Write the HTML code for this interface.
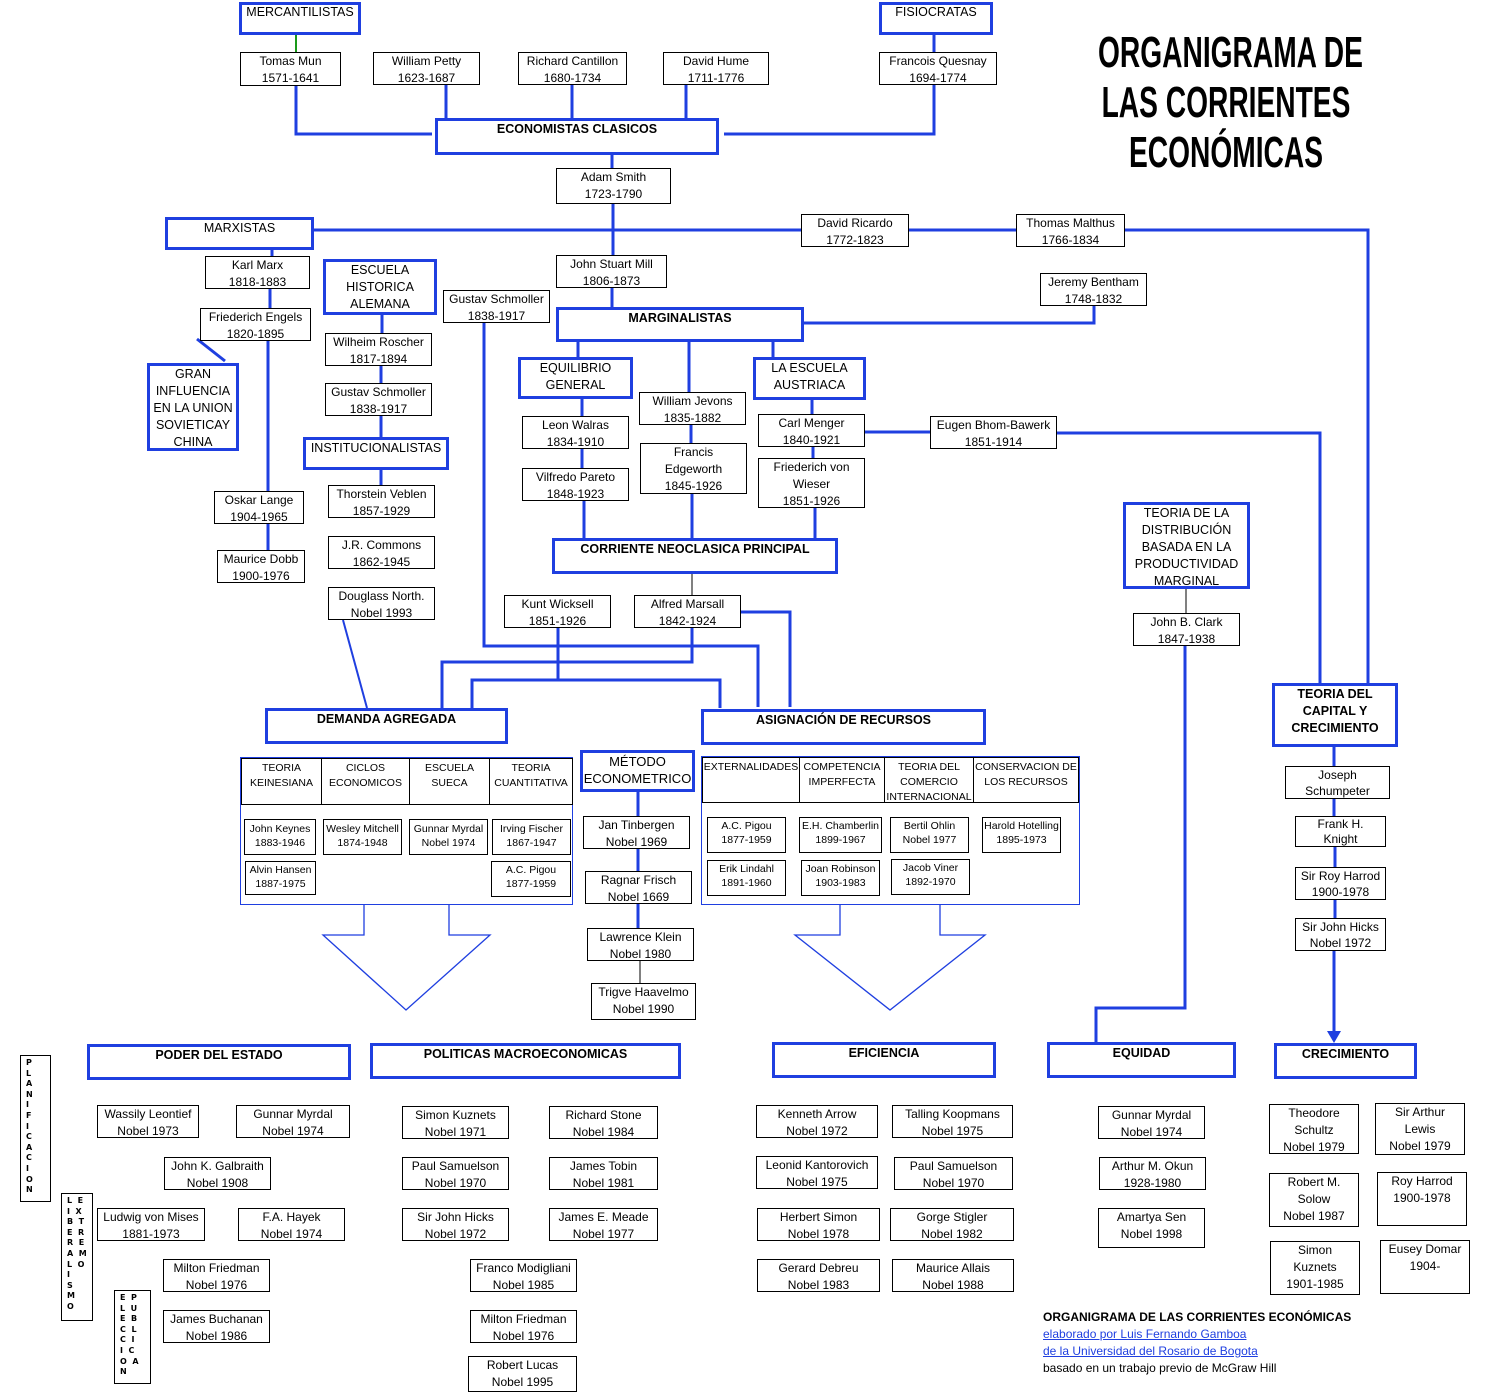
<!DOCTYPE html>
<html><head><meta charset="utf-8">
<style>
body{margin:0;background:#fff;}
#c{position:relative;width:1495px;height:1395px;overflow:hidden;font-family:"Liberation Sans",sans-serif;color:#000;}
.b,.h{position:absolute;box-sizing:border-box;background:#fff;text-align:center;font-size:12px;line-height:17px;z-index:2;}
.b{border:1px solid #000;}
.h{border:3px solid #1f3fe0;font-size:12.5px;line-height:17px;}
.hb{font-weight:bold;}
.s{font-size:10.5px;line-height:14px;}
.cell{position:absolute;box-sizing:border-box;border-right:1px solid #000;top:0;height:100%;text-align:center;font-size:10.5px;line-height:15px;padding-top:2px;}
.v{position:absolute;box-sizing:border-box;border:1px solid #000;background:#fff;font-weight:bold;font-size:8px;line-height:10.6px;font-family:"DejaVu Sans",sans-serif;padding:2px 0 0 5px;white-space:pre;z-index:2;}
svg{position:absolute;left:0;top:0;z-index:1;}
.t{position:absolute;left:1026px;width:400px;text-align:center;white-space:nowrap;font-family:"Liberation Sans",sans-serif;font-weight:bold;font-size:44px;line-height:50px;transform:scaleX(0.64);transform-origin:center;z-index:2;}
.f{position:absolute;left:1043px;font-size:12px;line-height:17px;z-index:2;}
.f a{color:#1f3fe0;text-decoration:underline;}
</style></head><body><div id="c">
<svg width="1495" height="1395" viewBox="0 0 1495 1395">
<g fill="none" stroke="#1f3fe0" stroke-width="3">
<polyline points="296,86 296,134 432,134"/>
<line x1="446" y1="85" x2="446" y2="118"/>
<line x1="572" y1="85" x2="572" y2="118"/>
<line x1="686" y1="85" x2="686" y2="118"/>
<polyline points="934,35 934,52"/>
<polyline points="934,85 934,134 724,134"/>
<line x1="612" y1="155" x2="612" y2="168"/>
<line x1="613" y1="204" x2="613" y2="255"/>
<polyline points="314,230 1368,230 1368,683"/>
<line x1="612" y1="288" x2="612" y2="307"/>
<polyline points="804,323 1094,323 1094,306"/>
<line x1="272" y1="250" x2="272" y2="256"/>
<line x1="270" y1="289" x2="270" y2="308"/>
<polyline points="197,339 225,361"/>
<line x1="268" y1="341" x2="268" y2="491"/>
<line x1="268" y1="524" x2="268" y2="550"/>
<line x1="382" y1="315" x2="382" y2="333"/>
<line x1="381" y1="366" x2="381" y2="383"/>
<line x1="381" y1="416" x2="381" y2="437"/>
<line x1="381" y1="470" x2="381" y2="485"/>
<polyline points="484,323 484,646 758,646 758,707"/>
<line x1="578" y1="341" x2="578" y2="357"/>
<line x1="689" y1="341" x2="689" y2="392"/>
<line x1="773" y1="341" x2="773" y2="358"/>
<line x1="582" y1="399" x2="582" y2="416"/>
<line x1="582" y1="449" x2="582" y2="468"/>
<line x1="584" y1="501" x2="584" y2="538"/>
<line x1="691" y1="425" x2="691" y2="443"/>
<line x1="692" y1="494" x2="692" y2="538"/>
<line x1="812" y1="400" x2="812" y2="414"/>
<line x1="813" y1="447" x2="813" y2="458"/>
<line x1="815" y1="508" x2="815" y2="538"/>
<line x1="865" y1="432" x2="930" y2="432"/>
<polyline points="1057,433 1320,433 1320,683"/>
<polyline points="558,627 558,680"/>
<polyline points="472,708 472,680 720,680 720,708"/>
<polyline points="692,628 692,662 442,662 442,708"/>
<polyline points="741,612 790,612 790,707"/>
<line x1="638" y1="792" x2="638" y2="816"/>
<line x1="638" y1="849" x2="638" y2="871"/>
<line x1="638" y1="904" x2="638" y2="928"/>
<polyline points="1185,646 1185,1008 1096,1008 1096,1042"/>
<line x1="1334" y1="747" x2="1334" y2="766"/>
<line x1="1334" y1="799" x2="1334" y2="816"/>
<line x1="1335" y1="847" x2="1335" y2="867"/>
<line x1="1335" y1="900" x2="1335" y2="918"/>
<line x1="1334" y1="951" x2="1334" y2="1032"/>
</g>
<line x1="343" y1="620" x2="367" y2="708" stroke="#1f3fe0" stroke-width="2"/>
<line x1="296" y1="35" x2="296" y2="52" stroke="#1a9a1a" stroke-width="2"/>
<line x1="692" y1="574" x2="692" y2="595" stroke="#000" stroke-width="1"/>
<line x1="640" y1="961" x2="640" y2="983" stroke="#000" stroke-width="1"/>
<line x1="1186" y1="589" x2="1186" y2="613" stroke="#000" stroke-width="1"/>
<polygon points="1327,1031 1341,1031 1334,1043" fill="#1f3fe0"/>
<g fill="none" stroke="#1f3fe0" stroke-width="1.3">
<polyline points="364,905 364,935 323,935 406,1010 490,935 449,935 449,905"/>
<polyline points="840,905 840,935 795,935 890,1010 985,935 940,935 940,905"/>
</g>
<rect x="240.5" y="757.5" width="332" height="147" fill="none" stroke="#1f3fe0" stroke-width="1"/>
<rect x="701.5" y="756.5" width="378" height="148" fill="none" stroke="#1f3fe0" stroke-width="1"/>
</svg>

<div class="t" style="top:28px">ORGANIGRAMA DE</div>
<div class="t" style="top:78px">LAS CORRIENTES</div>
<div class="t" style="top:128px">ECONÓMICAS</div>

<div class="h" style="left:239px;top:2px;width:122px;height:33px;line-height:14px;">MERCANTILISTAS</div>
<div class="h" style="left:879px;top:2px;width:114px;height:33px;line-height:14px;">FISIOCRATAS</div>
<div class="b" style="left:240px;top:52px;width:101px;height:34px;">Tomas Mun<br>1571-1641</div>
<div class="b" style="left:373px;top:52px;width:107px;height:33px;">William Petty<br>1623-1687</div>
<div class="b" style="left:518px;top:52px;width:109px;height:33px;">Richard Cantillon<br>1680-1734</div>
<div class="b" style="left:663px;top:52px;width:106px;height:33px;">David Hume<br>1711-1776</div>
<div class="b" style="left:879px;top:52px;width:118px;height:33px;">Francois Quesnay<br>1694-1774</div>
<div class="h hb" style="left:435px;top:118px;width:284px;height:37px;line-height:17px;">ECONOMISTAS CLASICOS</div>
<div class="b" style="left:556px;top:168px;width:115px;height:36px;">Adam Smith<br>1723-1790</div>
<div class="h" style="left:165px;top:217px;width:149px;height:33px;line-height:17px;">MARXISTAS</div>
<div class="b" style="left:801px;top:214px;width:108px;height:33px;">David Ricardo<br>1772-1823</div>
<div class="b" style="left:1016px;top:214px;width:109px;height:33px;">Thomas Malthus<br>1766-1834</div>
<div class="b" style="left:205px;top:256px;width:105px;height:33px;">Karl Marx<br>1818-1883</div>
<div class="b" style="left:200px;top:308px;width:111px;height:33px;">Friederich Engels<br>1820-1895</div>
<div class="h" style="left:147px;top:363px;width:92px;height:88px;">GRAN<br>INFLUENCIA<br>EN LA UNION<br>SOVIETICAY<br>CHINA</div>
<div class="b" style="left:214px;top:491px;width:90px;height:33px;">Oskar Lange<br>1904-1965</div>
<div class="b" style="left:217px;top:550px;width:88px;height:33px;">Maurice Dobb<br>1900-1976</div>
<div class="h" style="left:323px;top:259px;width:114px;height:56px;">ESCUELA<br>HISTORICA<br>ALEMANA</div>
<div class="b" style="left:325px;top:333px;width:107px;height:33px;">Wilheim Roscher<br>1817-1894</div>
<div class="b" style="left:325px;top:383px;width:107px;height:33px;">Gustav Schmoller<br>1838-1917</div>
<div class="h" style="left:303px;top:437px;width:146px;height:33px;">INSTITUCIONALISTAS</div>
<div class="b" style="left:328px;top:485px;width:107px;height:33px;">Thorstein Veblen<br>1857-1929</div>
<div class="b" style="left:328px;top:536px;width:107px;height:33px;">J.R. Commons<br>1862-1945</div>
<div class="b" style="left:328px;top:587px;width:107px;height:33px;">Douglass North.<br>Nobel 1993</div>
<div class="b" style="left:443px;top:290px;width:107px;height:33px;">Gustav Schmoller<br>1838-1917</div>
<div class="b" style="left:556px;top:255px;width:111px;height:33px;">John Stuart Mill<br>1806-1873</div>
<div class="b" style="left:1040px;top:273px;width:107px;height:33px;">Jeremy Bentham<br>1748-1832</div>
<div class="h hb" style="left:556px;top:307px;width:248px;height:35px;">MARGINALISTAS</div>
<div class="h" style="left:518px;top:357px;width:115px;height:42px;">EQUILIBRIO<br>GENERAL</div>
<div class="h" style="left:753px;top:357px;width:113px;height:43px;">LA ESCUELA<br>AUSTRIACA</div>
<div class="b" style="left:522px;top:416px;width:107px;height:33px;">Leon Walras<br>1834-1910</div>
<div class="b" style="left:522px;top:468px;width:107px;height:33px;">Vilfredo Pareto<br>1848-1923</div>
<div class="b" style="left:639px;top:392px;width:107px;height:33px;">William Jevons<br>1835-1882</div>
<div class="b" style="left:640px;top:443px;width:107px;height:51px;">Francis<br>Edgeworth<br>1845-1926</div>
<div class="b" style="left:758px;top:414px;width:107px;height:33px;">Carl Menger<br>1840-1921</div>
<div class="b" style="left:758px;top:458px;width:107px;height:50px;">Friederich von<br>Wieser<br>1851-1926</div>
<div class="b" style="left:930px;top:416px;width:127px;height:33px;">Eugen Bhom-Bawerk<br>1851-1914</div>
<div class="h hb" style="left:552px;top:538px;width:286px;height:36px;">CORRIENTE NEOCLASICA PRINCIPAL</div>
<div class="b" style="left:504px;top:595px;width:107px;height:33px;">Kunt Wicksell<br>1851-1926</div>
<div class="b" style="left:634px;top:595px;width:107px;height:33px;">Alfred Marsall<br>1842-1924</div>
<div class="h hb" style="left:265px;top:708px;width:243px;height:36px;">DEMANDA AGREGADA</div>
<div class="h hb" style="left:701px;top:709px;width:285px;height:36px;">ASIGNACIÓN DE RECURSOS</div>

<div class="b" style="left:241px;top:758px;width:332px;height:47px;border-width:1px;">
<div class="cell" style="left:0;width:80px;">TEORIA<br>KEINESIANA</div>
<div class="cell" style="left:80px;width:88px;">CICLOS<br>ECONOMICOS</div>
<div class="cell" style="left:168px;width:80px;">ESCUELA<br>SUECA</div>
<div class="cell" style="left:248px;width:82px;border-right:none;">TEORIA<br>CUANTITATIVA</div>
</div>
<div class="b s" style="left:244px;top:819px;width:72px;height:36px;padding-top:2px;">John Keynes<br>1883-1946</div>
<div class="b s" style="left:323px;top:819px;width:79px;height:36px;padding-top:2px;">Wesley Mitchell<br>1874-1948</div>
<div class="b s" style="left:409px;top:819px;width:79px;height:36px;padding-top:2px;">Gunnar Myrdal<br>Nobel 1974</div>
<div class="b s" style="left:492px;top:819px;width:79px;height:36px;padding-top:2px;">Irving Fischer<br>1867-1947</div>
<div class="b s" style="left:245px;top:861px;width:71px;height:34px;padding-top:1px;">Alvin Hansen<br>1887-1975</div>
<div class="b s" style="left:491px;top:861px;width:80px;height:36px;padding-top:1px;">A.C. Pigou<br>1877-1959</div>

<div class="h" style="left:580px;top:750px;width:115px;height:42px;font-size:13px;">MÉTODO<br>ECONOMETRICO</div>
<div class="b" style="left:583px;top:816px;width:107px;height:33px;">Jan Tinbergen<br>Nobel 1969</div>
<div class="b" style="left:585px;top:871px;width:107px;height:33px;">Ragnar Frisch<br>Nobel 1669</div>
<div class="b" style="left:587px;top:928px;width:107px;height:33px;">Lawrence Klein<br>Nobel 1980</div>
<div class="b" style="left:591px;top:983px;width:105px;height:37px;">Trigve Haavelmo<br>Nobel 1990</div>

<div class="b" style="left:702px;top:757px;width:377px;height:46px;border-width:1px;">
<div class="cell" style="left:0;width:97px;">EXTERNALIDADES</div>
<div class="cell" style="left:97px;width:85px;">COMPETENCIA<br>IMPERFECTA</div>
<div class="cell" style="left:182px;width:89px;">TEORIA DEL<br>COMERCIO<br>INTERNACIONAL</div>
<div class="cell" style="left:271px;width:104px;border-right:none;">CONSERVACION DE<br>LOS RECURSOS</div>
</div>
<div class="b s" style="left:707px;top:817px;width:79px;height:36px;padding-top:1px;">A.C. Pigou<br>1877-1959</div>
<div class="b s" style="left:799px;top:817px;width:83px;height:36px;padding-top:1px;">E.H. Chamberlin<br>1899-1967</div>
<div class="b s" style="left:890px;top:817px;width:79px;height:36px;padding-top:1px;">Bertil Ohlin<br>Nobel 1977</div>
<div class="b s" style="left:982px;top:817px;width:79px;height:36px;padding-top:1px;">Harold Hotelling<br>1895-1973</div>
<div class="b s" style="left:707px;top:860px;width:79px;height:36px;padding-top:1px;">Erik Lindahl<br>1891-1960</div>
<div class="b s" style="left:801px;top:860px;width:79px;height:36px;padding-top:1px;">Joan Robinson<br>1903-1983</div>
<div class="b s" style="left:891px;top:859px;width:79px;height:36px;padding-top:1px;">Jacob Viner<br>1892-1970</div>

<div class="h" style="left:1123px;top:502px;width:127px;height:87px;">TEORIA DE LA<br>DISTRIBUCIÓN<br>BASADA EN LA<br>PRODUCTIVIDAD<br>MARGINAL</div>
<div class="b" style="left:1133px;top:613px;width:107px;height:33px;">John B. Clark<br>1847-1938</div>
<div class="h hb" style="left:1272px;top:683px;width:126px;height:64px;">TEORIA DEL<br>CAPITAL Y<br>CRECIMIENTO</div>
<div class="b" style="left:1285px;top:766px;width:105px;height:33px;line-height:16px;">Joseph<br>Schumpeter</div>
<div class="b" style="left:1295px;top:816px;width:91px;height:31px;line-height:15px;">Frank H.<br>Knight</div>
<div class="b" style="left:1295px;top:867px;width:91px;height:33px;line-height:16px;">Sir Roy Harrod<br>1900-1978</div>
<div class="b" style="left:1295px;top:918px;width:91px;height:33px;line-height:16px;">Sir John Hicks<br>Nobel 1972</div>

<div class="h hb" style="left:87px;top:1044px;width:264px;height:36px;">PODER DEL ESTADO</div>
<div class="h hb" style="left:370px;top:1043px;width:311px;height:36px;">POLITICAS MACROECONOMICAS</div>
<div class="h hb" style="left:772px;top:1042px;width:224px;height:36px;">EFICIENCIA</div>
<div class="h hb" style="left:1047px;top:1042px;width:189px;height:36px;">EQUIDAD</div>
<div class="h hb" style="left:1274px;top:1043px;width:143px;height:36px;">CRECIMIENTO</div>

<div class="v" style="left:20px;top:1055px;width:31px;height:147px;">P
L
A
N
I
F
I
C
A
C
I
O
N</div>
<div class="v" style="left:61px;top:1193px;width:32px;height:128px;">L  E
I  X
B  T
E  R
R  E
A  M
L  O
I
S
M
O</div>
<div class="v" style="left:114px;top:1290px;width:37px;height:94px;">E  P
L  U
E  B
C  L
C  I
I  C
O  A
N</div>

<div class="b" style="left:97px;top:1105px;width:102px;height:33px;">Wassily Leontief<br>Nobel 1973</div>
<div class="b" style="left:236px;top:1105px;width:114px;height:33px;">Gunnar Myrdal<br>Nobel 1974</div>
<div class="b" style="left:164px;top:1157px;width:107px;height:33px;">John K. Galbraith<br>Nobel 1908</div>
<div class="b" style="left:97px;top:1208px;width:108px;height:33px;">Ludwig von Mises<br>1881-1973</div>
<div class="b" style="left:238px;top:1208px;width:107px;height:33px;">F.A. Hayek<br>Nobel 1974</div>
<div class="b" style="left:163px;top:1259px;width:107px;height:33px;">Milton Friedman<br>Nobel 1976</div>
<div class="b" style="left:163px;top:1310px;width:107px;height:33px;">James Buchanan<br>Nobel 1986</div>

<div class="b" style="left:402px;top:1106px;width:107px;height:33px;">Simon Kuznets<br>Nobel 1971</div>
<div class="b" style="left:549px;top:1106px;width:109px;height:33px;">Richard Stone<br>Nobel 1984</div>
<div class="b" style="left:402px;top:1157px;width:107px;height:33px;">Paul Samuelson<br>Nobel 1970</div>
<div class="b" style="left:549px;top:1157px;width:109px;height:33px;">James Tobin<br>Nobel 1981</div>
<div class="b" style="left:402px;top:1208px;width:107px;height:33px;">Sir John Hicks<br>Nobel 1972</div>
<div class="b" style="left:549px;top:1208px;width:109px;height:33px;">James E. Meade<br>Nobel 1977</div>
<div class="b" style="left:470px;top:1259px;width:107px;height:33px;">Franco Modigliani<br>Nobel 1985</div>
<div class="b" style="left:470px;top:1310px;width:107px;height:33px;">Milton Friedman<br>Nobel 1976</div>
<div class="b" style="left:468px;top:1356px;width:109px;height:36px;">Robert Lucas<br>Nobel 1995</div>

<div class="b" style="left:756px;top:1105px;width:122px;height:33px;">Kenneth Arrow<br>Nobel 1972</div>
<div class="b" style="left:892px;top:1105px;width:121px;height:33px;">Talling Koopmans<br>Nobel 1975</div>
<div class="b" style="left:756px;top:1156px;width:122px;height:33px;">Leonid Kantorovich<br>Nobel 1975</div>
<div class="b" style="left:894px;top:1157px;width:119px;height:33px;">Paul Samuelson<br>Nobel 1970</div>
<div class="b" style="left:757px;top:1208px;width:123px;height:33px;">Herbert Simon<br>Nobel 1978</div>
<div class="b" style="left:890px;top:1208px;width:124px;height:33px;">Gorge Stigler<br>Nobel 1982</div>
<div class="b" style="left:757px;top:1259px;width:123px;height:33px;">Gerard Debreu<br>Nobel 1983</div>
<div class="b" style="left:892px;top:1259px;width:122px;height:33px;">Maurice Allais<br>Nobel 1988</div>

<div class="b" style="left:1098px;top:1106px;width:107px;height:33px;">Gunnar Myrdal<br>Nobel 1974</div>
<div class="b" style="left:1099px;top:1157px;width:107px;height:33px;">Arthur M. Okun<br>1928-1980</div>
<div class="b" style="left:1098px;top:1208px;width:107px;height:40px;">Amartya Sen<br>Nobel 1998</div>

<div class="b" style="left:1269px;top:1104px;width:90px;height:50px;">Theodore<br>Schultz<br>Nobel 1979</div>
<div class="b" style="left:1375px;top:1103px;width:90px;height:52px;">Sir Arthur<br>Lewis<br>Nobel 1979</div>
<div class="b" style="left:1269px;top:1173px;width:90px;height:54px;">Robert M.<br>Solow<br>Nobel 1987</div>
<div class="b" style="left:1377px;top:1172px;width:90px;height:54px;">Roy Harrod<br>1900-1978</div>
<div class="b" style="left:1270px;top:1241px;width:90px;height:54px;">Simon<br>Kuznets<br>1901-1985</div>
<div class="b" style="left:1380px;top:1240px;width:90px;height:54px;">Eusey Domar<br>1904-</div>

<div class="f" style="top:1309px;font-weight:bold;">ORGANIGRAMA DE LAS CORRIENTES ECONÓMICAS</div>
<div class="f" style="top:1326px;"><a>elaborado por Luis Fernando Gamboa</a></div>
<div class="f" style="top:1343px;"><a>de la Universidad del Rosario de Bogota</a></div>
<div class="f" style="top:1360px;">basado en un trabajo previo de McGraw Hill</div>
</div></body></html>
